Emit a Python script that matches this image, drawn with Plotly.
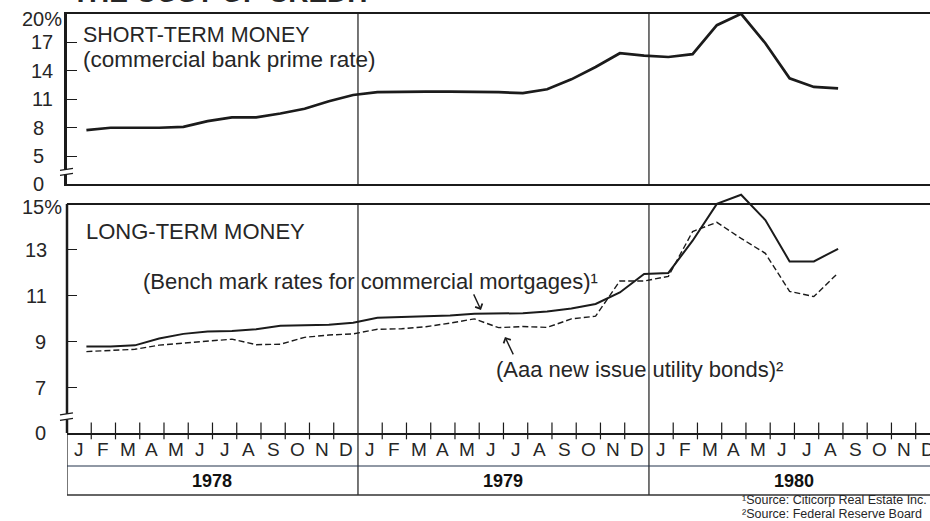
import plotly.graph_objects as go

# ---------------- data ----------------
months = ["J", "F", "M", "A", "M", "J", "J", "A", "S", "O", "N", "D"]
years = ["1978", "1979", "1980"]

# Jan 1978 .. Aug 1980, monthly, percent
prime_rate = [7.75, 8.0, 8.0, 8.0, 8.1, 8.7, 9.1, 9.1, 9.5, 10.0, 10.8, 11.45,
              11.75, 11.8, 11.8, 11.8, 11.8, 11.75, 11.65, 12.05, 13.1, 14.4, 15.85, 15.6,
              15.45, 15.75, 18.8, 20.0, 16.9, 13.2, 12.3, 12.15]
mortgage_rate = [8.8, 8.8, 8.85, 9.15, 9.35, 9.45, 9.47, 9.55, 9.7, 9.72, 9.75, 9.83,
                 10.05, 10.08, 10.1, 10.15, 10.22, 10.25, 10.25, 10.32, 10.45, 10.65, 11.15, 11.95,
                 12.0, 13.4, 15.0, 15.4, 14.3, 12.5, 12.5, 13.05]
utility_bond_rate = [8.58, 8.62, 8.68, 8.86, 8.94, 9.03, 9.12, 8.88, 8.9, 9.2, 9.3, 9.35,
                     9.55, 9.57, 9.66, 9.82, 10.0, 9.62, 9.67, 9.63, 10.0, 10.12, 11.65, 11.65,
                     11.85, 13.8, 14.2, 13.5, 12.85, 11.2, 10.97, 12.0]

top_ticks = [0, 5, 8, 11, 14, 17, 20]
bottom_ticks = [0, 7, 9, 11, 13, 15]

# ---------------- layout geometry / style ----------------
W, H = 930, 521
L = 67
PW = W - L
INK = "#1b1b1b"
TXT = "#262626"
FONT = "Liberation Sans, Arial, Helvetica, sans-serif"


def px(xp):
    return (xp - L) / PW


def py(yp):
    return 1 - yp / H


BOT_PX = 23.0          # pixels per percentage point, lower panel
TOP_DOM = [py(184), py(13.8)]
TOP_RANGE = [2.08, 20]
BOT_FRAME = 15         # the lower panel frame top (15%)
BOT_RANGE = [5.04, 15.6]  # headroom so the 1980 peak can poke above the frame
BOT_DOM = [py(433), py(433 - (BOT_RANGE[1] - BOT_RANGE[0]) * BOT_PX)]
X_RANGE = [0, 35.59]
OFF = 0.8  # data plotted near the end of each month

xs = [i + OFF for i in range(len(prime_rate))]

fig = go.Figure()

fig.add_trace(go.Scatter(x=xs, y=prime_rate, xaxis="x2", yaxis="y2", mode="lines",
                         line=dict(color=INK, width=2.7), hoverinfo="skip"))
fig.add_trace(go.Scatter(x=xs, y=mortgage_rate, xaxis="x", yaxis="y", mode="lines",
                         line=dict(color=INK, width=2.0), hoverinfo="skip"))
fig.add_trace(go.Scatter(x=xs, y=utility_bond_rate, xaxis="x", yaxis="y", mode="lines",
                         line=dict(color=INK, width=1.4, dash="6px,3px"), hoverinfo="skip"))

# month boundary tick marks crossing the lower axis
n_months = len(years) * len(months)
boundaries = [m for m in range(1, n_months) if m % 12 != 0 and m <= X_RANGE[1]]
fig.add_trace(go.Scatter(x=boundaries, y=[BOT_RANGE[0] + 0.09] * len(boundaries),
                         xaxis="x", yaxis="y", mode="markers", cliponaxis=False,
                         marker=dict(symbol="line-ns", size=12, color=INK,
                                     line=dict(width=1.2, color=INK)),
                         hoverinfo="skip"))

xax = dict(range=X_RANGE, domain=[0, 1], showline=True, linecolor=INK,
           linewidth=2, showgrid=False, zeroline=False, showticklabels=False, ticks="")


def yax(dom, rng, ticks, showline):
    return dict(domain=dom, range=rng, showline=showline, mirror=False, linecolor=INK,
                linewidth=2.5, showgrid=False, zeroline=False, showticklabels=False,
                ticks="inside", ticklen=10, tickwidth=1.3, tickcolor=INK,
                tickvals=[v for v in ticks if rng[0] < v < max(ticks)])


fig.update_layout(
    width=W, height=H, margin=dict(l=L, r=0, t=0, b=0, autoexpand=False),
    paper_bgcolor="white", plot_bgcolor="white", showlegend=False,
    font=dict(family=FONT, color=TXT),
    xaxis=dict(xax, anchor="y", mirror=False),
    yaxis=dict(yax(BOT_DOM, BOT_RANGE, bottom_ticks, False), anchor="x"),
    xaxis2=dict(xax, anchor="y2", matches="x", mirror=True),
    yaxis2=dict(yax(TOP_DOM, TOP_RANGE, top_ticks, True), anchor="x2"),
)

ann = []
shapes = []

# lower panel frame: top edge at 15% and left edge
shapes.append(dict(type="line", xref="paper", yref="y", x0=0, x1=1, y0=BOT_FRAME, y1=BOT_FRAME,
                   line=dict(color=INK, width=2), layer="below"))
shapes.append(dict(type="line", xref="paper", yref="y", x0=0, x1=0, y0=BOT_RANGE[0], y1=BOT_FRAME,
                   line=dict(color=INK, width=2.5)))


# y tick labels (placed by hand to mimic the typeset look)
def add_ticklabels(ticks, rng, yref, shifts, top_shift):
    for v in ticks:
        pos = v if v > 0 else rng[0]
        label = f"{v}%" if v == max(ticks) else str(v)
        if v == max(ticks):
            xs_ = shifts[0]
        elif len(label) == 2:
            xs_ = shifts[1]
        else:
            xs_ = shifts[2]
        ann.append(dict(x=0, xref="paper", y=pos, yref=yref, text=label, showarrow=False,
                        xanchor="right", yanchor="middle", xshift=xs_,
                        yshift=top_shift if v == max(ticks) else 0,
                        font=dict(size=20, family=FONT, color=TXT)))


add_ticklabels(top_ticks, TOP_RANGE, "y2", (-3, -12, -21), -5)
add_ticklabels(bottom_ticks, BOT_RANGE, "y", (-3, -18, -19), -3)


# axis break marks
def top_val(p):
    return TOP_RANGE[1] - (p - 13.8) / 9.5


def bot_val(p):
    return BOT_FRAME - (p - 204) / BOT_PX


for yref, conv, p1, p2 in (("y2", top_val, 169.5, 174.5), ("y", bot_val, 414, 419.5)):
    shapes.append(dict(type="rect", xref="paper", yref=yref, x0=px(L - 3), x1=px(L + 3),
                       y0=conv(p2), y1=conv(p1), fillcolor="white", line=dict(width=0)))
    for p in (p1, p2):
        shapes.append(dict(type="line", xref="paper", yref=yref, x0=px(L - 7), x1=px(L + 6),
                           y0=conv(p + 1), y1=conv(p - 1), line=dict(color=INK, width=1.3)))

# year dividers in the panels and the label boxes
year_edges = [12 * k for k in range(len(years) + 1) if 12 * k <= X_RANGE[1]]
for e in year_edges:
    if e > 0:
        shapes.append(dict(type="line", xref="x", yref="y2 domain", x0=e, x1=e, y0=0, y1=1,
                           line=dict(color=INK, width=1.2)))
        shapes.append(dict(type="line", xref="x", yref="y", x0=e, x1=e,
                           y0=BOT_RANGE[0], y1=BOT_FRAME, line=dict(color=INK, width=1.2),
                           layer="below"))
    shapes.append(dict(type="line", xref="x", yref="paper", x0=e, x1=e,
                       y0=py(495), y1=BOT_DOM[0], line=dict(color=INK, width=1.2)))
shapes.append(dict(type="line", xref="paper", yref="paper", x0=0, x1=1, y0=py(466), y1=py(466),
                   line=dict(color="#23324a", width=1.2)))
shapes.append(dict(type="line", xref="paper", yref="paper", x0=0, x1=1, y0=py(495), y1=py(495),
                   line=dict(color="#333333", width=1.4)))

# month letters and years
for i in range(n_months):
    xm = i + 0.5
    if xm < X_RANGE[1]:
        ann.append(dict(x=xm, xref="x", y=py(449.5), yref="paper", text=months[i % 12],
                        showarrow=False, xanchor="center", yanchor="middle",
                        font=dict(size=19, family=FONT, color=TXT)))
for k, yr in enumerate(years):
    ann.append(dict(x=12 * k + 6, xref="x", y=py(481), yref="paper", text=f"<b>{yr}</b>",
                    showarrow=False, xanchor="center", yanchor="middle",
                    font=dict(size=18, family=FONT, color="#111111")))


def label(text, xl, yc, size=22, **kw):
    ann.append(dict(x=px(xl), xref="paper", y=py(yc), yref="paper", text=text, showarrow=False,
                    xanchor="left", yanchor="middle", align="left",
                    font=dict(size=size, family=FONT, color=TXT), **kw))


# base size sets the (tight) line spacing; spans set the glyph sizes
label('<span style="font-size:21.5px">SHORT-TERM MONEY</span><br>'
      '<span style="font-size:22.5px">(commercial bank prime rate)</span>', 81, 47, size=19.5)
label("LONG-TERM MONEY", 84, 232)
label("(Bench mark rates for commercial mortgages)¹", 141, 281)
label("(Aaa new issue utility bonds)²", 494, 369)
label("<b>THE COST OF CREDIT</b>", 70, -8, size=28)
label('<span style="font-size:12.5px">¹Source: Citicorp Real Estate Inc.</span><br>'
      '<span style="font-size:12.5px">²Source: Federal Reserve Board</span>', 740, 507, size=10.8)

# pointer arrows
ann.append(dict(x=(481 - L) / 24.25, xref="x", y=bot_val(310), yref="y",
                text="", showarrow=True, arrowhead=4, arrowsize=1.1, arrowwidth=1.4,
                arrowcolor=INK, ax=-8, ay=-17))
ann.append(dict(x=(505 - L) / 24.25, xref="x", y=bot_val(337), yref="y",
                text="", showarrow=True, arrowhead=4, arrowsize=1.1, arrowwidth=1.4,
                arrowcolor=INK, ax=9, ay=19))

fig.update_layout(annotations=ann, shapes=shapes)
fig.write_html("out.html", config={"displayModeBar": False},
               post_script="document.body.style.margin='0';document.body.style.overflow='hidden';")
